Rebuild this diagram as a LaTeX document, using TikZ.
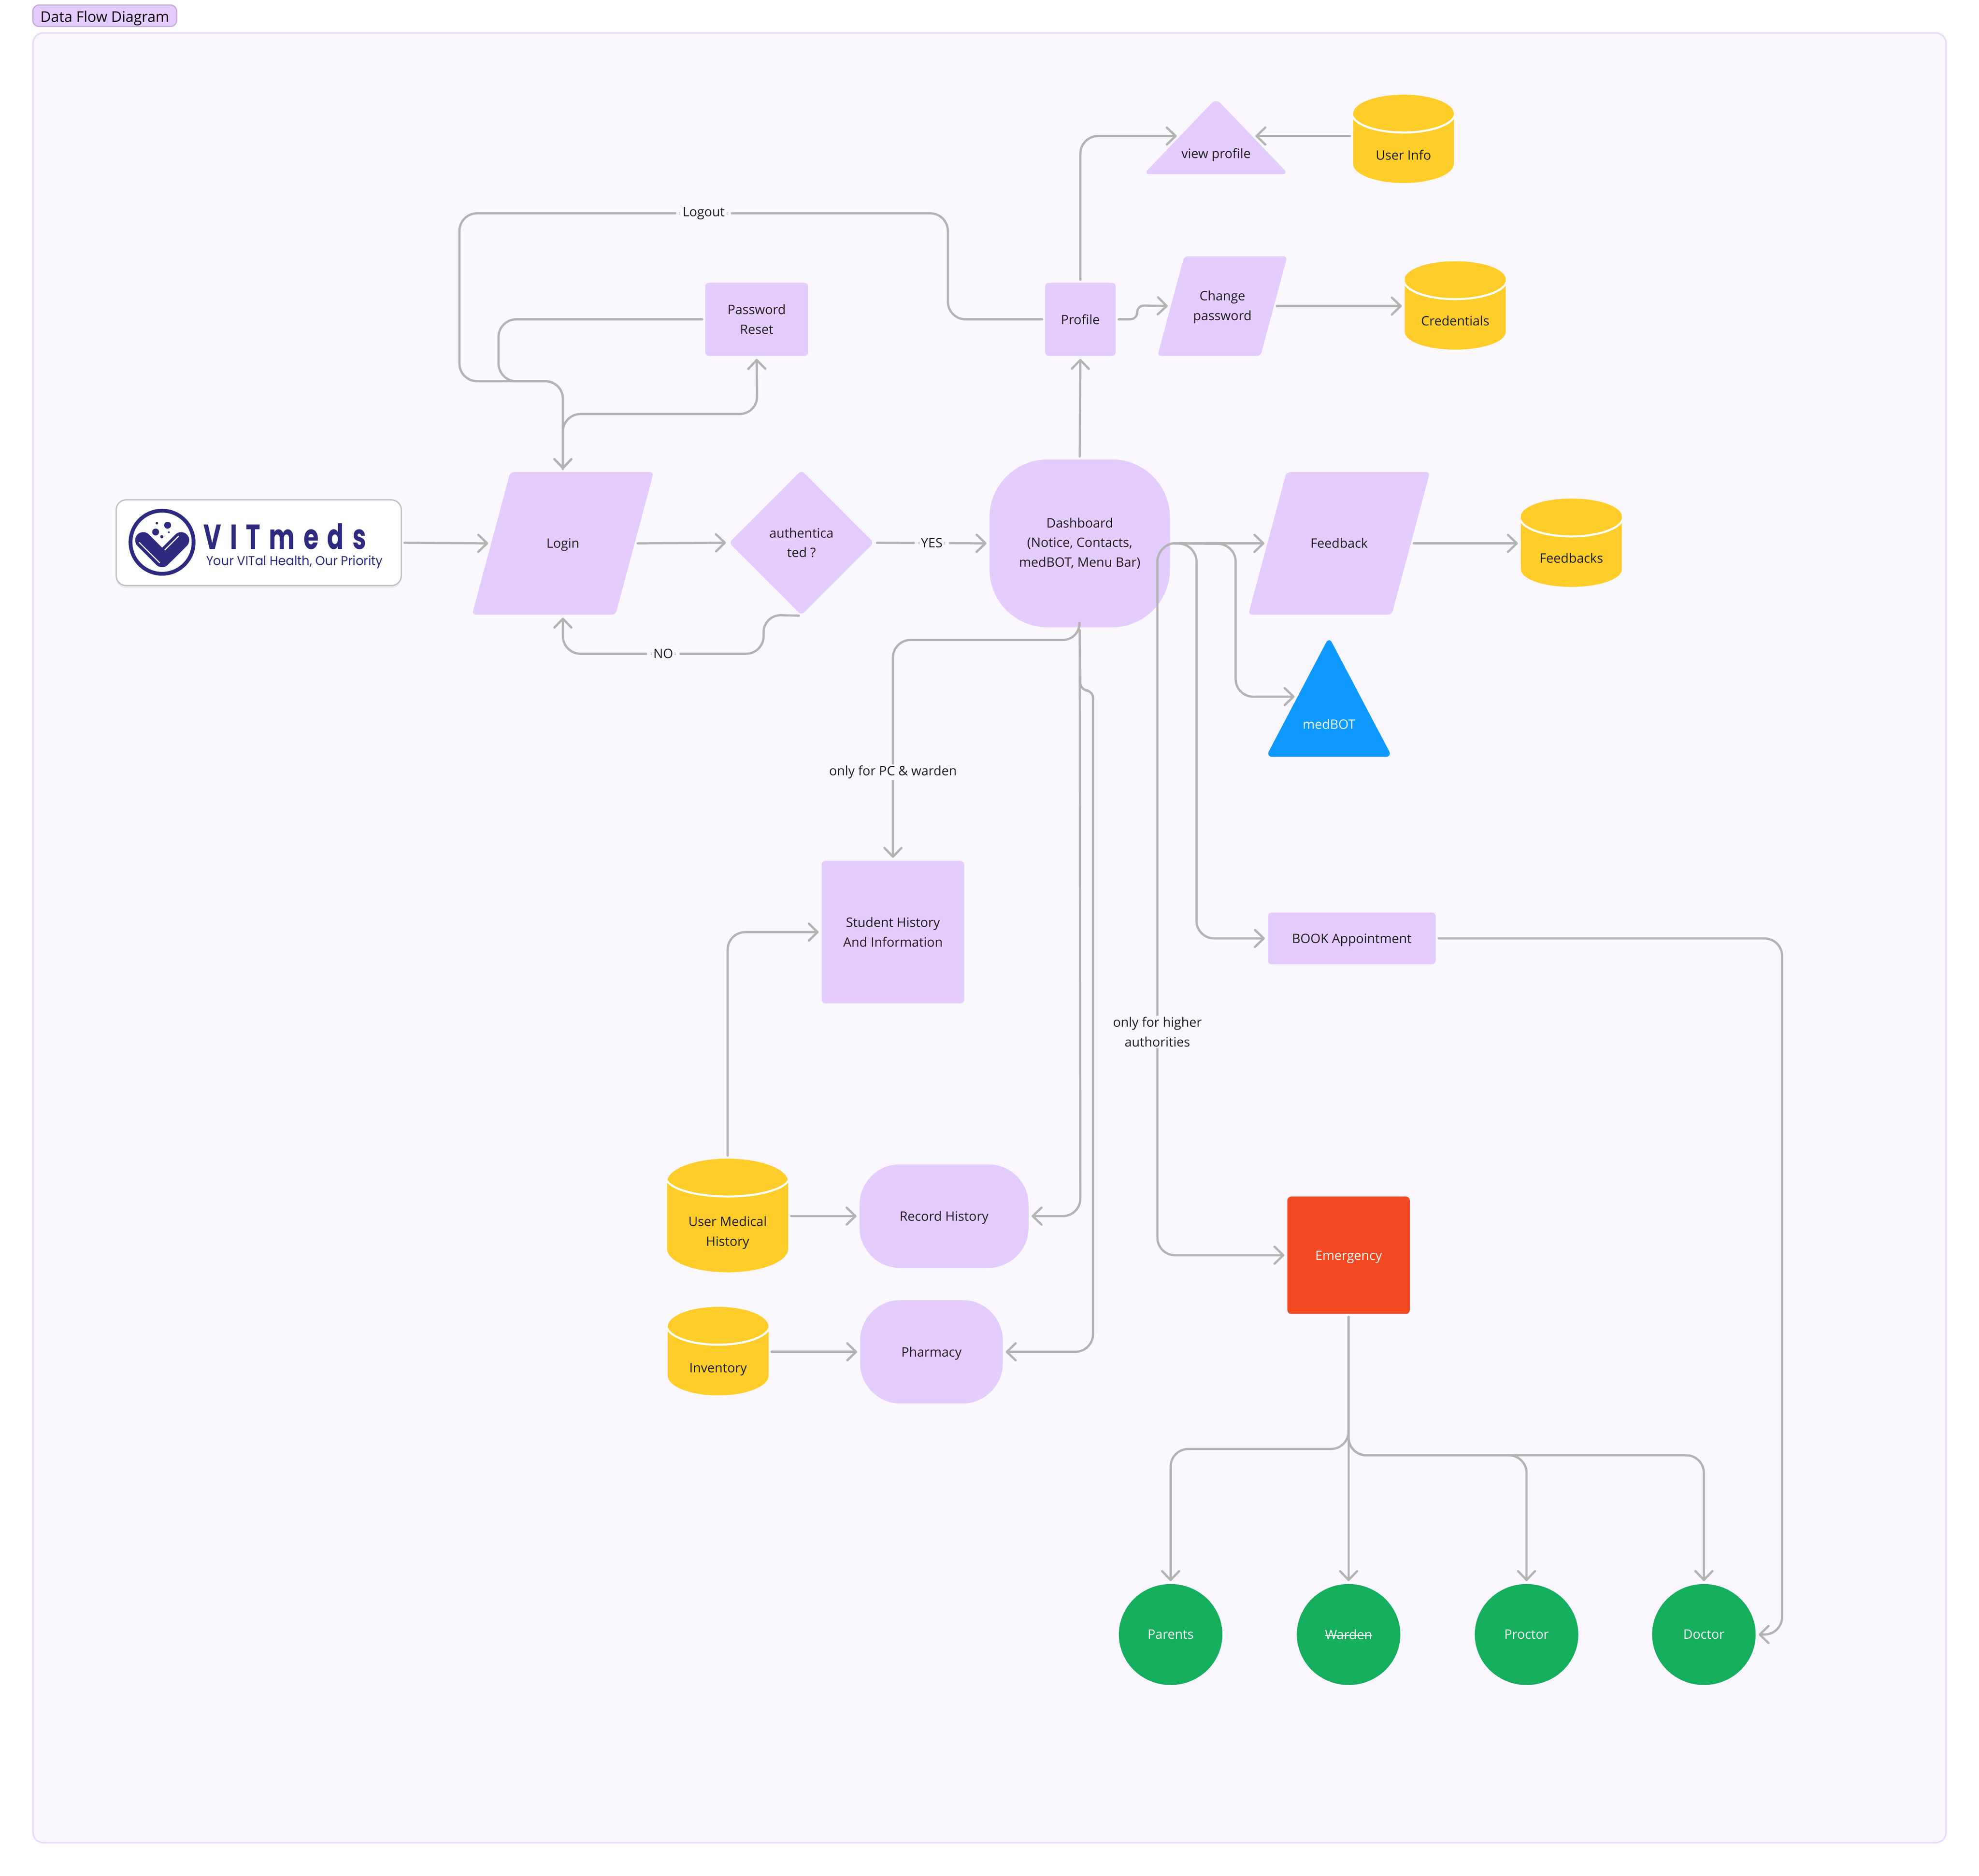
\documentclass[tikz,border=0pt]{standalone}
\usepackage{fontspec}
\setmainfont{Open Sans}
\newfontfamily\logotitlefont{Poppins}[LetterSpace=25,FakeStretch=0.7]
\newfontfamily\logotagfont{Poppins}[FakeStretch=0.96]
\usetikzlibrary{arrows.meta,shapes.geometric,shadows}
\def\struck#1{\setbox0=\hbox{#1}\rlap{\rule[0.27em]{\wd0}{0.4pt}}\box0}
\def\floating#1#2{\raisebox{#1}[0pt][0pt]{\makebox[0pt]{#2}}}
\definecolor{canvasfill}{HTML}{FAF7FF}
\definecolor{lilac}{HTML}{E4CCFF}
\definecolor{tagedge}{HTML}{C8ADDC}
\definecolor{amber}{HTML}{FFCD29}
\definecolor{skyblue}{HTML}{0D99FF}
\definecolor{alarm}{HTML}{F24822}
\definecolor{contact}{HTML}{14AE5C}
\definecolor{wire}{HTML}{B3B3B3}
\definecolor{ink}{HTML}{1E1E1E}
\definecolor{logoink}{HTML}{2E2A7F}
\tikzset{
    base/.style={text=ink, font=\fontsize{5.85}{8.8}\selectfont, align=center, inner sep=0pt},
    oneline/.style={text height=5pt, text depth=0.6pt},
    process/.style={base, fill=lilac, rounded corners=0.06cm},
    soft/.style={base, fill=lilac, rounded corners=0.64cm},
    slant/.style={process, trapezium, trapezium left angle=75, trapezium right angle=105},
    decision/.style={process, diamond, minimum width=2.3cm, minimum height=2.3cm},
    peak/.style={process, rounded corners=0.1cm, isosceles triangle, isosceles triangle stretches, shape border rotate=90, anchor=lower side},
    store/.style={base, cylinder, shape border rotate=90, anchor=shape center, aspect=0.7, fill=amber, draw=none, text height=11.2pt, text depth=1.3pt,
        path picture={\draw[white, line width=0.032cm] ([yshift=-0.29cm]path picture bounding box.north) ellipse (#1 and 0.31cm);}},
    store/.default=0.82cm,
    person/.style={base, ellipse, fill=contact, text=white, minimum width=1.64cm, minimum height=1.6cm},
    flow/.style={draw=wire, line width=0.035cm, line cap=round, rounded corners=0.28cm,
        -{Straight Barb[round, length=0.14cm, width=0.27cm]}, shorten >=0.04cm, shorten <=0.04cm},
    flowlabel/.style={base, fill=canvasfill, inner xsep=0.1cm, inner ysep=0.02cm},
}

\begin{document}
\begin{tikzpicture}[x=0.02cm, y=-0.02cm]
    \useasboundingbox (0,0) rectangle (1568,1486.05);
    \node[draw=lilac!75, fill=canvasfill, line width=0.024cm, rounded corners=0.16cm, minimum width=30.32cm, minimum height=28.68cm] (canvas) at (784,743) {};
    \node[base, draw=tagedge, fill=lilac, line width=0.02cm, rounded corners=0.1cm, minimum width=2.28cm, minimum height=0.34cm, text=black, font=\fontsize{6.6}{8}\selectfont, text height=5.5pt, text depth=0pt] (title) at (83,12.5) {Data Flow Diagram};

    \node[draw=black!25, fill=white, line width=0.02cm, rounded corners=0.16cm, minimum width=4.52cm, minimum height=1.36cm, drop shadow={opacity=0.12, shadow xshift=0cm, shadow yshift=-0.04cm}] (logo) at (205,430) {};
    \draw[logoink, line width=0.06cm] (128.4,429.6) circle (0.5cm);
    \draw[logoink, line width=0.256cm, line cap=round, line join=round] (113.5,428) -- (128.4,443) -- (143.5,428);
    \draw[white, line width=0.016cm] (110.2,429.7) -- (126.6,446);
    \draw[white, line width=0.016cm] (141.6,424.7) -- (130.5,435.8);
    \fill[logoink] (132.8,416.1) circle (0.055cm) (123.3,421.5) circle (0.055cm) (124.3,414.5) circle (0.02cm) (128.2,425.2) circle (0.026cm) (133.8,421.7) circle (0.014cm);
    \node[anchor=base west, inner sep=0pt, text=logoink, text depth=0pt, font=\logotitlefont\fontsize{15.7}{16}\selectfont\bfseries] (logotitle) at (161,435.2) {VITmeds};
    \node[anchor=base west, inner sep=0pt, text=logoink, font=\logotagfont\fontsize{5.8}{6}\selectfont] (logotag) at (163,448) {Your VITal Health, Our Priority};

    \node[slant, text width=1.668cm, text height=1.2cm, text depth=1.06cm] (login) at (446,430.5) {Login};
    \node[decision] (auth) at (635,430) {authentica\\ted ?};
    \node[soft, rounded corners=0.92cm, minimum width=2.86cm, minimum height=2.66cm] (dash) at (855.5,430.5) {Dashboard\\(Notice, Contacts,\\medBOT, Menu Bar)};
    \node[process, minimum width=1.63cm, minimum height=1.16cm] (reset) at (599.5,253) {Password\\Reset};
    \node[process, minimum width=1.12cm, minimum height=1.16cm] (profile) at (856,253) {Profile};
    \node[slant, text width=1.21cm, text height=0.705cm, text depth=0.875cm] (changepw) at (968.5,242.5) {Change\\password};
    \node[peak, minimum width=2.3cm, minimum height=1.2cm] (viewprofile) at (963.5,138.4) {\floating{-0.24cm}{view profile}};
    \node[store, minimum width=1.6cm, minimum height=1.4cm] (userinfo) at (1112,110) {User Info};
    \node[store, minimum width=1.6cm, minimum height=1.4cm] (credentials) at (1153,242) {\makebox[0.8cm]{Credentials}};
    \node[slant, text width=1.668cm, text height=1.2cm, text depth=1.06cm] (feedback) at (1061,430.5) {Feedback};
    \node[store, minimum width=1.6cm, minimum height=1.4cm] (feedbacks) at (1245,430) {\makebox[0.8cm]{Feedbacks}};
    \node[peak, fill=skyblue, text=white, minimum width=2cm, minimum height=1.9cm] (medbot) at (1053,600) {\floating{-0.16cm}{medBOT}};
    \node[process, minimum width=2.26cm, minimum height=2.26cm] (history) at (707.5,738.5) {Student History\\And Information};
    \node[process, oneline, minimum width=2.66cm, minimum height=0.82cm] (book) at (1071,743.5) {BOOK Appointment};
    \node[store=0.98cm, aspect=0.6, text height=17.9pt, minimum width=1.92cm, minimum height=1.8cm] (medical) at (576.5,963) {User Medical\\History};
    \node[soft, oneline, minimum width=2.68cm, minimum height=1.64cm] (record) at (748,963.5) {Record History};
    \node[store, minimum width=1.6cm, minimum height=1.4cm] (inventory) at (569,1070.5) {Inventory};
    \node[soft, oneline, minimum width=2.26cm, minimum height=1.64cm] (pharmacy) at (738,1071) {Pharmacy};
    \node[process, oneline, fill=alarm, text=white, minimum width=1.94cm, minimum height=1.86cm] (emergency) at (1068.5,994.5) {Emergency};
    \node[person] (parents) at (927.5,1295) {Parents};
    \node[person] (warden) at (1068.5,1295) {\struck{Warden}};
    \node[person] (proctor) at (1209.5,1295) {Proctor};
    \node[person] (doctor) at (1350,1295) {Doctor};

    \draw[flow] (logo.east) -- (login.left side);
    \draw[flow] (login.right side) -- (auth.west);
    \draw[flow] (auth.east) -- node[flowlabel] (yes) {YES} (dash.west);
    \draw[flow] (auth.south) -- (605,487) -- (605,518) -- node[flowlabel] (no) {NO} (446,518) -- (login.south);
    \draw[flow] (profile.west) -- (751,253) -- (751,169) -- node[flowlabel] (logout) {Logout} (364,169) -- (364,302) -- (446,302) -- (login.north);
    \draw[flow] (reset.west) -- (395,253) -- (395,302) -- (446,302) -- (login.north);
    \draw[flow] (login.north) -- (446,328) -- (600,328) -- (reset.south);
    \draw[flow] (dash.north) -- (profile.south);
    \draw[flow] (profile.north) -- (profile.north |- viewprofile.left side) -- (viewprofile.left side);
    \draw[flow, rounded corners=0.11cm] (profile.east) -- (901,253) -- (901,242) -- (changepw.left side);
    \draw[flow] (changepw.right side) -- (changepw.right side -| credentials.west);
    \draw[flow] (viewprofile.right side -| userinfo.west) -- (viewprofile.right side);
    \draw[flow] (dash.east) -- (feedback.left side);
    \draw[flow] (feedback.right side) -- (feedback.right side -| feedbacks.west);
    \draw[flow] (dash.east) -- (979,431) -- (979,552) -- (medbot.left side);
    \draw[flow] (dash.east) -- (948,431) -- (948,743.5) -- (book.west);
    \draw[flow] (dash.east) -- (917,431) -- node[flowlabel, pos=0.686] (higher) {only for higher\\authorities} (917,994.5) -- (emergency.west);
    \draw[flow] (dash.south) -- (856,507) -- (707.5,507) -- node[flowlabel, pos=0.6] (wardenonly) {only for PC \& warden} (history.north);
    \draw[flow] (dash.south) -- (856,963.5) -- (record.east);
    \draw[flow, rounded corners=0.12cm] (dash.south) -- (856,547) -- (866,547) [rounded corners=0.28cm] -- (866,1071) -- (pharmacy.east);
    \draw[flow] (book.east) -- (1412,743.5) -- (1412,1295) -- (doctor.east);
    \draw[flow] (medical.north) -- (576.5,738.5) -- (history.west);
    \draw[flow] (record.west -| medical.east) -- (record.west);
    \draw[flow] (pharmacy.west -| inventory.east) -- (pharmacy.west);
    \draw[flow] (emergency.south) -- (1068.5,1148) -- (927.5,1148) -- (parents.north);
    \draw[flow] (emergency.south) -- (warden.north);
    \draw[flow] (emergency.south) -- (1068.5,1153) -- (1209.5,1153) -- (proctor.north);
    \draw[flow] (emergency.south) -- (1068.5,1153) -- (1350,1153) -- (doctor.north);
\end{tikzpicture}
\end{document}
